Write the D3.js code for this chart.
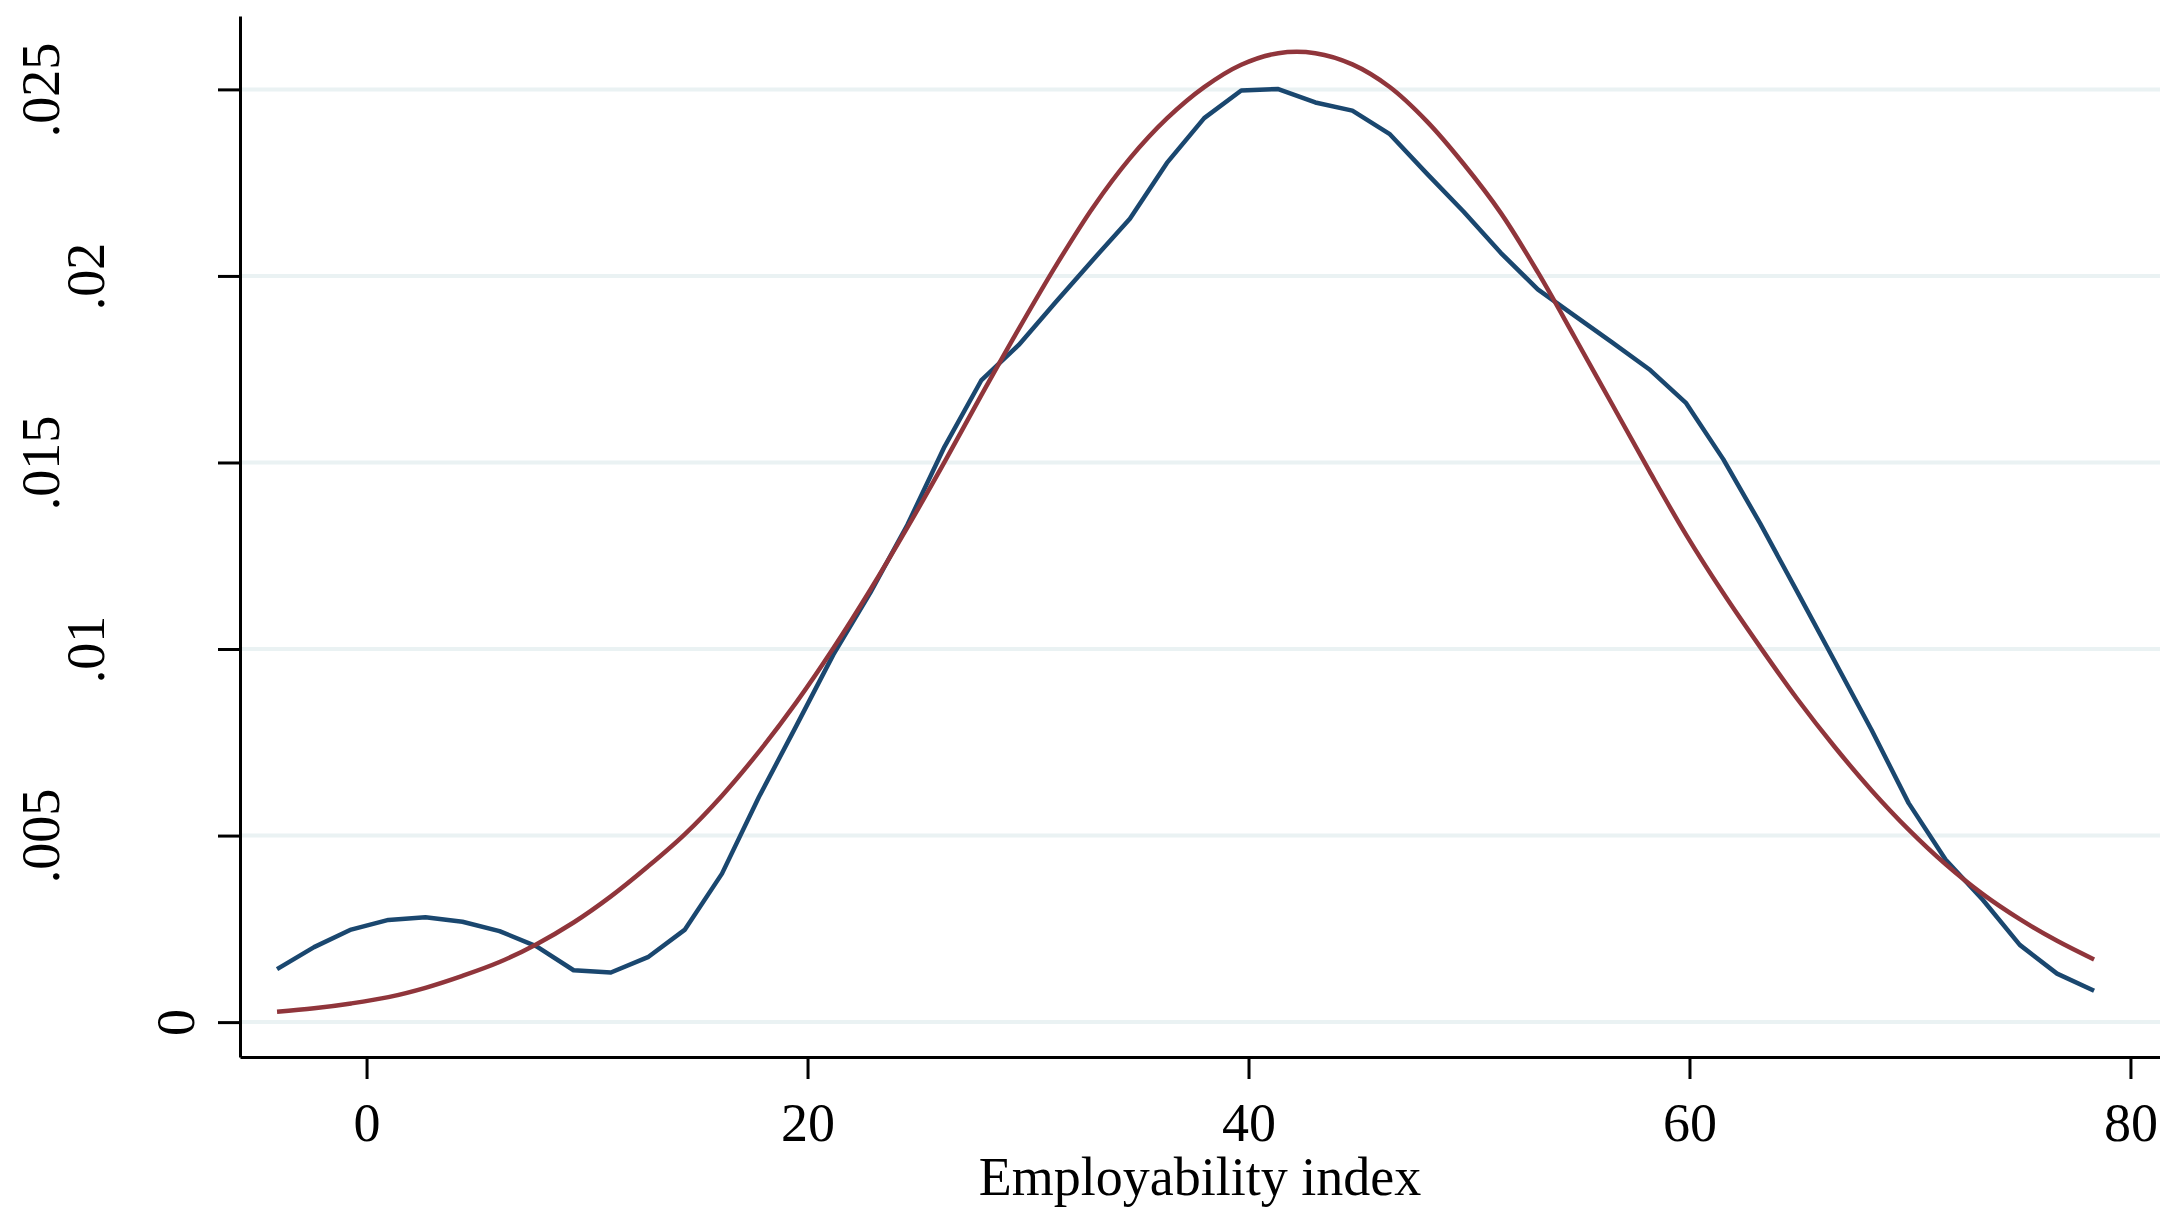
<!DOCTYPE html>
<html>
<head>
<meta charset="utf-8">
<script src="https://cdn.jsdelivr.net/npm/d3@7"></script>
<style>
	body { margin: 0; background: #fff; }
</style>
</head>
<body>
<div id="chart"></div>
<script>
// kernel density grid (employability index)
var xGrid = [-4.06, -2.38, -0.70, 0.99, 2.67, 4.35, 6.03, 7.71, 9.39, 11.08,
	12.76, 14.44, 16.12, 17.80, 19.49, 21.17, 22.85, 24.53, 26.21, 27.89,
	29.58, 31.26, 32.94, 34.62, 36.30, 37.99, 39.67, 41.35, 43.03, 44.71,
	46.39, 48.08, 49.76, 51.44, 53.12, 54.80, 56.49, 58.17, 59.85, 61.53,
	63.21, 64.89, 66.58, 68.26, 69.94, 71.62, 73.30, 74.98, 76.67, 78.35];

// kernel density estimate
var kdensity = [0.00142, 0.00201, 0.00248, 0.00274, 0.00281, 0.00269, 0.00244, 0.00203, 0.00139, 0.00133,
	0.00174, 0.00248, 0.00398, 0.00604, 0.00794, 0.00985, 0.01151, 0.01333, 0.01542, 0.01721,
	0.01815, 0.01930, 0.02043, 0.02153, 0.02303, 0.02423, 0.02497, 0.02501, 0.02465, 0.02443,
	0.02381, 0.02275, 0.02172, 0.02062, 0.01964, 0.01893, 0.01822, 0.01750, 0.01659, 0.01509,
	0.01336, 0.01153, 0.00968, 0.00783, 0.00587, 0.00435, 0.00328, 0.00207, 0.00130, 0.00084];

// normal density overlay
var normal = [0.00028, 0.00037, 0.00050, 0.00067, 0.00092, 0.00124, 0.00161, 0.00209, 0.00267, 0.00337,
	0.00417, 0.00504, 0.00607, 0.00725, 0.00857, 0.01002, 0.01159, 0.01326, 0.01501, 0.01681,
	0.01858, 0.02027, 0.02183, 0.02315, 0.02422, 0.02506, 0.02566, 0.02597, 0.02597, 0.02567,
	0.02507, 0.02415, 0.02300, 0.02169, 0.02010, 0.01835, 0.01656, 0.01478, 0.01306, 0.01150,
	0.01005, 0.00866, 0.00738, 0.00621, 0.00516, 0.00423, 0.00343, 0.00276, 0.00218, 0.00168];

var yTicks = [0, 0.005, 0.01, 0.015, 0.02, 0.025];
var yTickLabels = ['0', '.005', '.01', '.015', '.02', '.025'];
var xTicks = [0, 20, 40, 60, 80];
var xTickLabels = ['0', '20', '40', '60', '80'];
var xTitle = 'Employability index';

var width = 2160, height = 1207;
var plotLeft = 240, plotRight = 2160, plotTop = 16, plotBottom = 1057;
var font = '"Liberation Serif", "Times New Roman", serif';
var fontSize = 54;

var blue = '#1a476f';
var red = '#90353b';
var gridColor = '#eaf2f3';

var x = d3.scaleLinear()
	.domain([-5.74, 81.34])
	.range([plotLeft, plotRight]);

var y = d3.scaleLinear()
	.domain([-0.000935, 0.026967])
	.range([plotBottom, plotTop]);

var svg = d3.select('#chart').append('svg')
	.attr('width', width)
	.attr('height', height)
	.style('display', 'block');

svg.append('rect')
	.attr('width', width)
	.attr('height', height)
	.attr('fill', '#fff');

// grid lines
svg.append('g')
	.selectAll('line')
	.data(yTicks)
	.join('line')
	.attr('x1', plotLeft + 2)
	.attr('x2', plotRight)
	.attr('y1', function(d){ return y(d); })
	.attr('y2', function(d){ return y(d); })
	.attr('stroke', gridColor)
	.attr('stroke-width', 4);

var kdLine = d3.line()
	.x(function(d, i){ return x(xGrid[i]); })
	.y(function(d){ return y(d); });

var normLine = d3.line()
	.x(function(d, i){ return x(xGrid[i]); })
	.y(function(d){ return y(d); })
	.curve(d3.curveCatmullRom.alpha(0.5));

svg.append('path')
	.datum(kdensity)
	.attr('fill', 'none')
	.attr('stroke', blue)
	.attr('stroke-width', 4.5)
	.attr('stroke-linejoin', 'round')
	.attr('d', kdLine);

svg.append('path')
	.datum(normal)
	.attr('fill', 'none')
	.attr('stroke', red)
	.attr('stroke-width', 4.5)
	.attr('stroke-linejoin', 'round')
	.attr('d', normLine);

// y axis
var yAxis = svg.append('g')
	.attr('transform', 'translate(' + plotLeft + ',0)')
	.call(d3.axisLeft(y)
		.tickValues(yTicks)
		.tickSize(22)
		.tickSizeOuter(0)
		.tickFormat(function(d, i){ return yTickLabels[i]; }));

yAxis.select('.domain').attr('stroke', '#000').attr('stroke-width', 3);
yAxis.selectAll('.tick line').attr('stroke', '#000').attr('stroke-width', 3);
yAxis.selectAll('.tick text')
	.attr('x', null)
	.attr('fill', '#000')
	.attr('font-family', font)
	.attr('font-size', fontSize)
	.attr('text-anchor', 'middle')
	.attr('transform', function(d, i){
		var n = yTickLabels[i].length;
		var cx = 176 - 45 * (n - 1) - plotLeft;
		return 'translate(' + cx + ',0) rotate(-90)';
	})
	.attr('dy', '0.34em');

// x axis
var xAxis = svg.append('g')
	.attr('transform', 'translate(0,' + plotBottom + ')')
	.call(d3.axisBottom(x)
		.tickValues(xTicks)
		.tickSize(22)
		.tickSizeOuter(0)
		.tickFormat(function(d, i){ return xTickLabels[i]; }));

xAxis.select('.domain').attr('stroke', '#000').attr('stroke-width', 3);
xAxis.selectAll('.tick line').attr('stroke', '#000').attr('stroke-width', 3);
xAxis.selectAll('.tick text')
	.attr('y', 84)
	.attr('dy', null)
	.attr('fill', '#000')
	.attr('font-family', font)
	.attr('font-size', fontSize);

svg.append('text')
	.attr('x', (plotLeft + plotRight) / 2)
	.attr('y', 1195)
	.attr('text-anchor', 'middle')
	.attr('font-family', font)
	.attr('font-size', fontSize)
	.attr('fill', '#000')
	.text(xTitle);
</script>
</body>
</html>
